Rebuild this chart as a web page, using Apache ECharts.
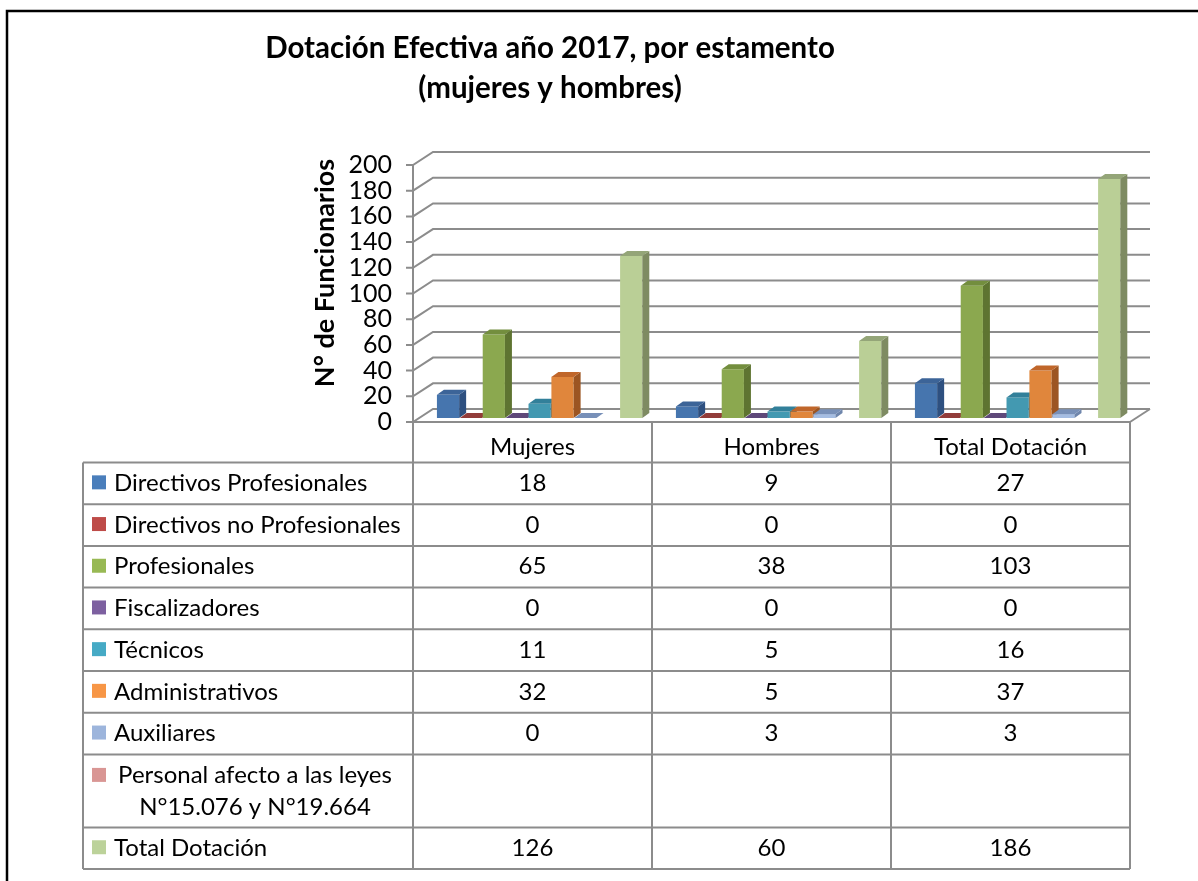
<!DOCTYPE html>
<html><head><meta charset="utf-8">
<script src="https://cdn.jsdelivr.net/npm/echarts@6/dist/echarts.min.js"></script>
<style>html,body{margin:0;padding:0;background:#fff}#c{width:1198px;height:881px}</style>
</head><body><div id="c"></div>
<script>
// ---------- DATA ----------
const categories = ['Mujeres', 'Hombres', 'Total Dotación'];
const seriesNames = ['Directivos Profesionales', 'Directivos no Profesionales', 'Profesionales', 'Fiscalizadores', 'Técnicos', 'Administrativos', 'Auxiliares', 'Personal afecto a las leyes\nN°15.076 y N°19.664', 'Total Dotación'];
const dirProfesionales = [18, 9, 27];
const dirNoProfesionales = [0, 0, 0];
const profesionales = [65, 38, 103];
const fiscalizadores = [0, 0, 0];
const tecnicos = [11, 5, 16];
const administrativos = [32, 5, 37];
const auxiliares = [0, 3, 3];
const personalLeyes = [null, null, null];
const totalDotacion = [126, 60, 186];
const yTicks = [0, 20, 40, 60, 80, 100, 120, 140, 160, 180, 200];
const titleText = 'Dotación Efectiva año 2017, por estamento\n(mujeres y hombres)';
const yAxisTitle = 'N° de Funcionarios';

const seriesValues = [dirProfesionales, dirNoProfesionales, profesionales, fiscalizadores, tecnicos, administrativos, auxiliares, personalLeyes, totalDotacion];

// ---------- STYLE ----------
const palette = [
  {front: '#4675AE', side: '#2E5080', top: '#3C6498', sw: '#4A7EBB'},
  {front: '#B54B48', side: '#7E3331', top: '#923C3A', sw: '#BE4B48'},
  {front: '#8BA84F', side: '#5E7431', top: '#738E3E', sw: '#98B954'},
  {front: '#7A5F9C', side: '#4F3D68', top: '#5E4879', sw: '#7D60A0'},
  {front: '#4399B1', side: '#2C6C7E', top: '#32809A', sw: '#46AAC5'},
  {front: '#E0863C', side: '#9C5522', top: '#C0662A', sw: '#F79646'},
  {front: '#A5BDE2', side: '#6F86AC', top: '#7890B8', sw: '#9DB5DC'},
  {front: '#D08C8A', side: '#9E6362', top: '#B07372', sw: '#D99694'},
  {front: '#BACF96', side: '#7E8B62', top: '#94A578', sw: '#BCD29A'}
];
const FONT = 'Lato, "Open Sans", sans-serif';
const LINE = '#8c8c8c';
const TFS = 24;            // table font size
const DEPTH = [20, -13];   // back wall offset
const BAR_OFF = [6, -4];   // bar front plane offset
const BAR_DEPTH = [7, -5]; // bar depth

function barRenderer(sIdx) {
  return function (params, api) {
    const v = api.value(1);
    if (v === null || v === undefined || isNaN(v)) return;
    const cat = api.value(0);
    const bw = api.size([1, 0])[0];
    const base = api.coord([cat, 0]);
    const topP = api.coord([cat, v]);
    const slot = bw * 0.0958;
    const w = slot * 0.97;
    const x0 = base[0] - bw / 2 + bw * 0.075 + BAR_OFF[0] + sIdx * slot;
    const x1 = x0 + w;
    const yb = base[1] + BAR_OFF[1];
    const yt = topP[1] + BAR_OFF[1];
    const dx = BAR_DEPTH[0], dy = BAR_DEPTH[1];
    const col = palette[sIdx];
    const children = [];
    if (yb - yt > 0.5) {
      children.push({type: 'polygon', shape: {points: [[x0, yt], [x1, yt], [x1, yb], [x0, yb]]}, style: {fill: col.front}});
      children.push({type: 'polygon', shape: {points: [[x1, yt], [x1 + dx, yt + dy], [x1 + dx, yb + dy], [x1, yb]]}, style: {fill: col.side}});
    }
    children.push({type: 'polygon', shape: {points: [[x0, yt], [x0 + dx, yt + dy], [x1 + dx, yt + dy], [x1, yt]]}, style: {fill: col.top}});
    return {type: 'group', children};
  };
}

function gridRenderer(params, api) {
  const v = api.value(1);
  const bw = api.size([1, 0])[0];
  const p0 = api.coord([0, v]);
  const pN = api.coord([categories.length - 1, v]);
  const left = p0[0] - bw / 2, right = pN[0] + bw / 2, y = p0[1];
  const children = [{
    type: 'polyline',
    shape: {points: [[left - 7, y], [left, y], [left + DEPTH[0], y + DEPTH[1]], [right + DEPTH[0], y + DEPTH[1]]]},
    style: {stroke: LINE, lineWidth: 2, fill: null}
  }];
  if (v === 0) {
    children.push({type: 'line', shape: {x1: right, y1: y, x2: right + DEPTH[0], y2: y + DEPTH[1]}, style: {stroke: LINE, lineWidth: 2}});
  }
  return {type: 'group', children};
}

const series = [{
  type: 'custom', name: 'grid3d', silent: true, z: 1,
  renderItem: gridRenderer,
  data: yTicks.map(v => [0, v])
}];
seriesValues.forEach((vals, i) => {
  series.push({
    type: 'custom', name: seriesNames[i], z: 3,
    renderItem: barRenderer(i),
    data: vals.map((v, c) => [c, v])
  });
});

const chart = echarts.init(document.getElementById('c'), null, {renderer: 'canvas'});
chart.setOption({
  animation: false,
  backgroundColor: '#fff',
  title: {
    text: titleText, left: 545, top: 23, textAlign: 'center',
    textStyle: {fontFamily: FONT, fontWeight: 'bold', fontSize: 29.5, lineHeight: 40, color: '#000'}
  },
  grid: {left: 413, right: 68, top: 165, bottom: 459, containLabel: false},
  xAxis: {
    type: 'category', data: categories,
    axisLine: {show: true, lineStyle: {color: LINE, width: 2}},
    axisTick: {show: false}, axisLabel: {show: false}, splitLine: {show: false}
  },
  yAxis: {
    type: 'value', min: 0, max: 200, interval: 20,
    axisLine: {show: true, lineStyle: {color: LINE, width: 2}},
    axisTick: {show: false}, splitLine: {show: false},
    axisLabel: {fontFamily: FONT, fontSize: 25, color: '#000', margin: 21}
  },
  series
});

// ---------- TABLE (data table under the plot) ----------
function buildTable() {
  const centers = categories.map((c, i) => chart.convertToPixel({xAxisIndex: 0}, i));
  const bw = centers[1] - centers[0];
  const colEdges = [centers[0] - bw / 2].concat(centers.map(c => c + bw / 2));
  const axisY = chart.convertToPixel({yAxisIndex: 0}, 0);
  const tableLeft = 83;
  const headerBottom = axisY + 40.5;
  const rowH = 41.7;
  const rowHeights = seriesNames.map(n => n.indexOf('\n') >= 0 ? 73 : rowH);
  const rowTops = [];
  let y = headerBottom;
  rowHeights.forEach(h => { rowTops.push(y); y += h; });
  const tableBottom = y;
  const els = [];
  // outer frame of the whole chart
  els.push({type: 'polyline', shape: {points: [[7, 881], [7, 11], [1198, 11]]}, style: {stroke: '#000', lineWidth: 2.5, fill: null}, z: 10});
  // y axis title
  els.push({type: 'text', x: 325, y: 273, rotation: Math.PI / 2,
    style: {text: yAxisTitle, fontFamily: FONT, fontWeight: 'bold', fontSize: 27, fill: '#000', align: 'center', verticalAlign: 'middle'}});
  // vertical lines
  els.push({type: 'line', shape: {x1: tableLeft, y1: headerBottom, x2: tableLeft, y2: tableBottom}, style: {stroke: LINE, lineWidth: 2}});
  colEdges.forEach(x => els.push({type: 'line', shape: {x1: x, y1: axisY, x2: x, y2: tableBottom}, style: {stroke: LINE, lineWidth: 2}}));
  // horizontal lines
  rowTops.concat([tableBottom]).forEach(yy => els.push({type: 'line', shape: {x1: tableLeft, y1: yy, x2: colEdges[colEdges.length - 1], y2: yy}, style: {stroke: LINE, lineWidth: 2}}));
  // header
  categories.forEach((c, i) => els.push({type: 'text', x: centers[i], y: axisY + 25,
    style: {text: c, fontFamily: FONT, fontSize: TFS, fill: '#000', align: 'center', verticalAlign: 'middle'}}));
  // rows
  seriesNames.forEach((name, r) => {
    const mid = rowTops[r] + rowHeights[r] / 2;
    const multi = name.indexOf('\n') >= 0;
    const swY = multi ? mid - 16 - 7 : mid - 7 - 1;
    els.push({type: 'rect', shape: {x: 92, y: swY, width: 14, height: 14}, style: {fill: palette[r].sw}});
    if (multi) {
      els.push({type: 'text', x: 255, y: mid, style: {text: name, fontFamily: FONT, fontSize: TFS, lineHeight: 32, fill: '#000', align: 'center', verticalAlign: 'middle'}});
    } else {
      els.push({type: 'text', x: 114, y: mid, style: {text: name, fontFamily: FONT, fontSize: TFS, fill: '#000', align: 'left', verticalAlign: 'middle'}});
    }
    seriesValues[r].forEach((v, c) => {
      if (v === null || v === undefined) return;
      els.push({type: 'text', x: centers[c], y: mid, style: {text: String(v), fontFamily: FONT, fontSize: TFS, fill: '#000', align: 'center', verticalAlign: 'middle'}});
    });
  });
  chart.setOption({graphic: {elements: els}});
}
buildTable();
</script>
</body></html>
